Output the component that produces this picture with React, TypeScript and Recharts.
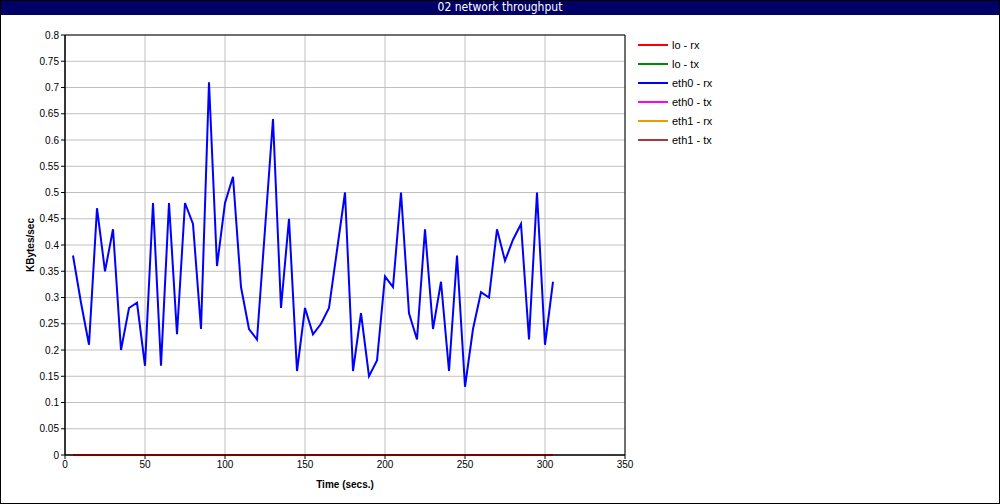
import React from "react";
import {
  LineChart,
  Line,
  XAxis,
  YAxis,
  CartesianGrid,
  ReferenceArea,
} from "recharts";

const chartTitle = "02 network throughput";

const times = [
  5, 10, 15, 20, 25, 30, 35, 40, 45, 50,
  55, 60, 65, 70, 75, 80, 85, 90, 95, 100,
  105, 110, 115, 120, 125, 130, 135, 140, 145, 150,
  155, 160, 165, 170, 175, 180, 185, 190, 195, 200,
  205, 210, 215, 220, 225, 230, 235, 240, 245, 250,
  255, 260, 265, 270, 275, 280, 285, 290, 295, 300,
  305,
];

const eth0Rx = [
  0.38, 0.29, 0.21, 0.47, 0.35, 0.43, 0.2, 0.28, 0.29, 0.17,
  0.48, 0.17, 0.48, 0.23, 0.48, 0.44, 0.24, 0.71, 0.36, 0.48,
  0.53, 0.32, 0.24, 0.22, 0.43, 0.64, 0.28, 0.45, 0.16, 0.28,
  0.23, 0.25, 0.28, 0.39, 0.5, 0.16, 0.27, 0.15, 0.18, 0.34,
  0.32, 0.5, 0.27, 0.22, 0.43, 0.24, 0.33, 0.16, 0.38, 0.13,
  0.24, 0.31, 0.3, 0.43, 0.37, 0.41, 0.44, 0.22, 0.5, 0.21,
  0.33,
];

const zeroSeries = [
  0, 0, 0, 0, 0, 0, 0, 0, 0, 0,
  0, 0, 0, 0, 0, 0, 0, 0, 0, 0,
  0, 0, 0, 0, 0, 0, 0, 0, 0, 0,
  0, 0, 0, 0, 0, 0, 0, 0, 0, 0,
  0, 0, 0, 0, 0, 0, 0, 0, 0, 0,
  0, 0, 0, 0, 0, 0, 0, 0, 0, 0,
  0,
];

const loRx = zeroSeries;
const loTx = zeroSeries;
const eth0Tx = zeroSeries;
const eth1Rx = zeroSeries;
const eth1Tx = zeroSeries;

const xTicks = [0, 50, 100, 150, 200, 250, 300, 350];
const yTicks = [
  0, 0.05, 0.1, 0.15, 0.2, 0.25, 0.3, 0.35, 0.4, 0.45, 0.5, 0.55, 0.6, 0.65,
  0.7, 0.75, 0.8,
];

const seriesNames = ["lo - rx", "lo - tx", "eth0 - rx", "eth0 - tx", "eth1 - rx", "eth1 - tx"];
const seriesKeys = ["loRx", "loTx", "eth0Rx", "eth0Tx", "eth1Rx", "eth1Tx"];
const seriesColors = ["#ff0000", "#008c00", "#0000ff", "#ff00ff", "#ee9a00", "#a53a3a"];

const data = times.map((t, i) => ({
  t,
  loRx: loRx[i],
  loTx: loTx[i],
  eth0Rx: eth0Rx[i],
  eth0Tx: eth0Tx[i],
  eth1Rx: eth1Rx[i],
  eth1Tx: eth1Tx[i],
}));

const FONT = '"Liberation Sans", Arial, Helvetica, sans-serif';
const NARROW = '"Liberation Sans Narrow", "DejaVu Sans Condensed", "Liberation Sans", sans-serif';

const fmtY = (v: number) => String(Number(v.toFixed(2)));

// render order: lo - rx last so it sits on top at zero
const drawOrder = [5, 4, 3, 1, 0, 2];

export default function App() {
  return (
    <div
      style={{
        position: "absolute",
        left: 0,
        top: 0,
        width: 1000,
        height: 504,
        background: "#fff",
        overflow: "hidden",
      }}
    >
      <LineChart
        width={1000}
        height={504}
        data={data}
        margin={{ top: 35, right: 375, bottom: 0, left: 0 }}
        style={{ position: "absolute", left: 0, top: 0, fontFamily: FONT }}
      >
        <CartesianGrid stroke="#c0c0c0" strokeWidth={1} horizontal vertical />
        <XAxis
          dataKey="t"
          type="number"
          domain={[0, 350]}
          ticks={xTicks}
          interval={0}
          height={49}
          tickSize={4}
          tickMargin={2}
          stroke="#000"
          tick={{ fill: "#000", fontSize: 10, fontFamily: FONT }}
          label={{
            value: "Time (secs.)",
            position: "insideBottom",
            offset: 16,
            style: { fontWeight: "bold", fontSize: 10, fill: "#000", fontFamily: FONT },
          }}
        />
        <YAxis
          type="number"
          domain={[0, 0.8]}
          ticks={yTicks}
          interval={0}
          width={65}
          tickSize={4}
          tickMargin={2}
          stroke="#000"
          tickFormatter={fmtY}
          tick={{ fill: "#000", fontSize: 10, fontFamily: FONT }}
          label={{
            value: "KBytes/sec",
            angle: -90,
            position: "center",
            dx: -2,
            style: { fontWeight: "bold", fontSize: 10, fill: "#000", fontFamily: FONT },
          }}
        />
        <ReferenceArea
          x1={0}
          x2={350}
          y1={0}
          y2={0.8}
          fill="none"
          fillOpacity={0}
          stroke="#000"
          strokeOpacity={1}
        />
        {drawOrder.map((i) => (
          <Line
            key={seriesKeys[i]}
            dataKey={seriesKeys[i]}
            name={seriesNames[i]}
            type="linear"
            stroke={seriesColors[i]}
            strokeWidth={2}
            dot={false}
            activeDot={false}
            isAnimationActive={false}
          />
        ))}
      </LineChart>
      <div
        style={{
          position: "absolute",
          left: 638,
          top: 35,
          fontFamily: FONT,
          fontSize: 11,
          color: "#000",
        }}
      >
        {seriesNames.map((name, i) => (
          <div key={name} style={{ display: "flex", alignItems: "center", height: 19 }}>
            <div
              style={{ width: 30, height: 2, background: seriesColors[i], marginRight: 4 }}
            />
            <span>{name}</span>
          </div>
        ))}
      </div>
      <div
        style={{
          position: "absolute",
          left: 0,
          top: 0,
          width: 1000,
          height: 15,
          background: "#000066",
          color: "#fff",
          fontFamily: NARROW,
          fontSize: 12,
          lineHeight: "15px",
          textAlign: "center",
        }}
      >
        {chartTitle}
      </div>
      <div
        style={{
          position: "absolute",
          left: 0,
          top: 0,
          width: 1000,
          height: 504,
          boxSizing: "border-box",
          border: "1px solid #000",
          pointerEvents: "none",
        }}
      />
    </div>
  );
}
